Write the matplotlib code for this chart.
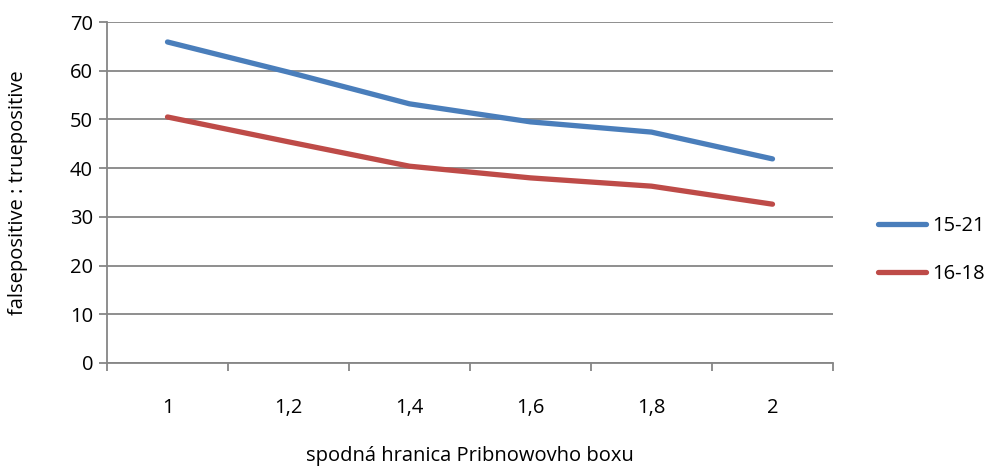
import matplotlib
matplotlib.use("Agg")
import matplotlib.pyplot as plt
from matplotlib.ticker import FixedLocator, MultipleLocator

plt.rcParams['font.family'] = ['Open Sans', 'DejaVu Sans']

categories = ["1", "1,2", "1,4", "1,6", "1,8", "2"]
series_15_21 = [65.9, 59.7, 53.2, 49.5, 47.4, 41.9]
series_16_18 = [50.5, 45.4, 40.4, 38.0, 36.3, 32.6]

fig = plt.figure(figsize=(9.98, 4.71), dpi=100)
ax = fig.add_axes([107/998, 1-363/471, (833-107)/998, (363-22)/471])

x = list(range(len(categories)))
grey = "#868686"
l1, = ax.plot(x, series_15_21, color="#4A7EBB", lw=3.8, solid_capstyle="round", solid_joinstyle="round", label="15-21")
l2, = ax.plot(x, series_16_18, color="#BE4B48", lw=3.8, solid_capstyle="round", solid_joinstyle="round", label="16-18")

ax.set_xlim(-0.5, len(categories) - 0.5)
ax.set_ylim(0, 70)
ax.yaxis.set_major_locator(MultipleLocator(10))
ax.grid(axis="y", color=grey, lw=1.3)
ax.set_axisbelow(True)

for s in ["top", "right"]:
    ax.spines[s].set_visible(False)
for s in ["left", "bottom"]:
    ax.spines[s].set_color(grey)
    ax.spines[s].set_linewidth(1.3)

fs = 14.5
ax.set_xticks(x)
ax.set_xticklabels(categories, fontsize=fs)
ax.tick_params(axis="x", which="major", length=0, pad=25)
ax.xaxis.set_minor_locator(FixedLocator([i - 0.5 for i in range(len(categories) + 1)]))
ax.tick_params(axis="x", which="minor", length=6, color=grey, width=1.3)
ax.tick_params(axis="y", length=6, color=grey, width=1.3, labelsize=fs, pad=4)

ax.set_xlabel("spodná hranica Pribnowovho boxu", fontsize=fs, va="center")
ax.xaxis.set_label_coords(0.5, (363-456)/341)
ax.set_ylabel("falsepositive : truepositive", fontsize=fs, va="center")
ax.yaxis.set_label_coords((18-107)/726, 0.5)

fig.legend(handles=[l1, l2], loc="center left", bbox_to_anchor=(860/998, 1-250/471),
           frameon=False, fontsize=fs, handlelength=2.4, handletextpad=0.3,
           labelspacing=1.4)

fig.savefig("out.png", dpi=100)
